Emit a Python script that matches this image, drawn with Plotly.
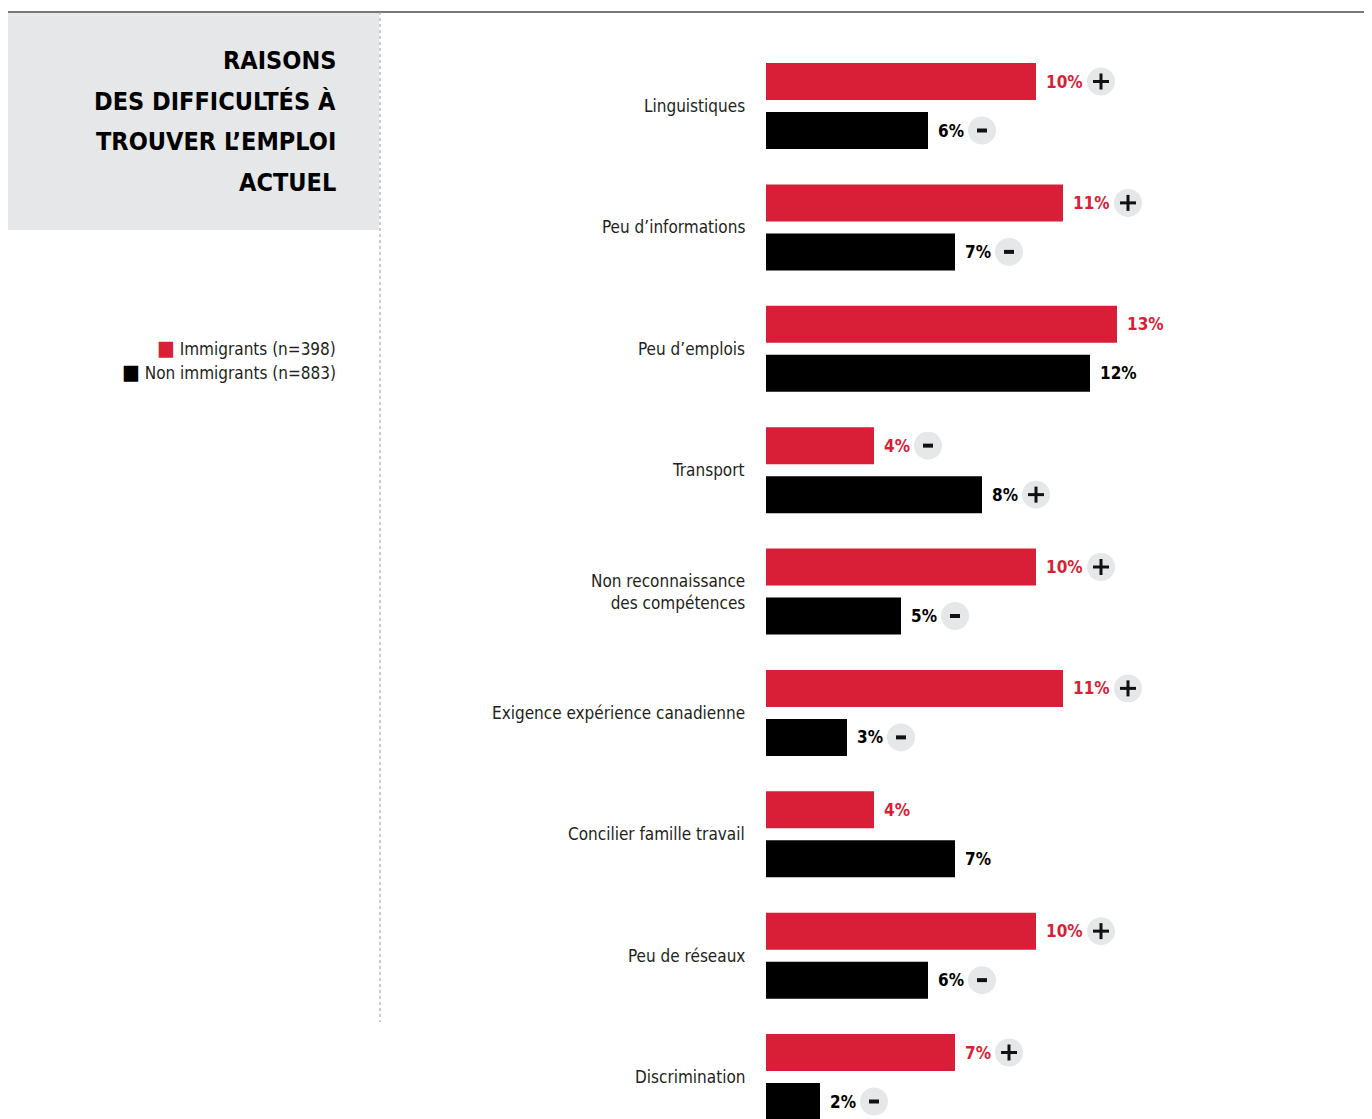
import plotly.graph_objects as go

# ---------------- data ----------------
categories = [
    "Linguistiques",
    "Peu d’informations",
    "Peu d’emplois",
    "Transport",
    "Non reconnaissance<br>des compétences",
    "Exigence expérience canadienne",
    "Concilier famille travail",
    "Peu de réseaux",
    "Discrimination",
]
immigrants = [10, 11, 13, 4, 10, 11, 4, 10, 7]
non_immigrants = [6, 7, 12, 8, 5, 3, 7, 6, 2]
# significance markers: "+" higher, "-" lower, "" none
immigrants_sig = ["+", "+", "", "-", "+", "+", "", "+", "+"]
non_immigrants_sig = ["-", "-", "", "+", "-", "-", "", "-", "-"]
title_lines = ["RAISONS", "DES DIFFICULTÉS À", "TROUVER L’EMPLOI", "ACTUEL"]
legend_labels = ["Immigrants (n=398)", "Non immigrants (n=883)"]

# ---------------- style ----------------
PAGE = 8  # browser body margin
W, H = 1372 - PAGE, 1119 - PAGE
RED = "#d81f37"
BLACK = "#000000"
TXT = "#231f20"
CIRCLE = "#e6e7e8"
FONT = "DejaVu Sans Condensed, Roboto Condensed, Liberation Sans Narrow, Roboto, sans-serif"

PX_PER_PCT = 27.0
X0_PX = 766 - PAGE
GROUP_PX = 121.375
FIRST_CENTER_PX = 106 - PAGE
OFF = 24.5 / GROUP_PX
BW = 37 / GROUP_PX

x_range = [0, (W - X0_PX) / PX_PER_PCT]
y_top = -FIRST_CENTER_PX / GROUP_PX
y_bot = (H - FIRST_CENTER_PX) / GROUP_PX

idx = list(range(len(categories)))
y_red = [i - OFF for i in idx]
y_blk = [i + OFF for i in idx]

fig = go.Figure()
fig.add_trace(go.Bar(x=immigrants, y=y_red, orientation="h", width=BW,
                     marker=dict(color=RED, line=dict(width=0)), name=legend_labels[0],
                     hoverinfo="x"))
fig.add_trace(go.Bar(x=non_immigrants, y=y_blk, orientation="h", width=BW,
                     marker=dict(color=BLACK, line=dict(width=0)), name=legend_labels[1],
                     hoverinfo="x"))

annotations = []
shapes = []

def px_x(p):
    return (p - PAGE) / W

def px_y(p):
    return 1 - (p - PAGE) / H

# category labels
for i, c in enumerate(categories):
    annotations.append(dict(x=0, y=i, xref="x", yref="y", text=c, showarrow=False,
                            xanchor="right", yanchor="middle", xshift=-19, align="right",
                            font=dict(family=FONT, size=17, color=TXT)))

def add_value(vals, ys, sigs, color):
    for v, y, s in zip(vals, ys, sigs):
        annotations.append(dict(x=v, y=y, xref="x", yref="y", text=f"<b>{v}%</b>",
                                showarrow=False, xanchor="left", yanchor="middle",
                                xshift=8, font=dict(family=FONT, size=17, color=color)))
        if s:
            off = 65 if v >= 10 else 54
            shapes.append(dict(type="circle", xref="x", yref="y", xsizemode="pixel",
                               ysizemode="pixel", xanchor=v, yanchor=y,
                               x0=off - 14, x1=off + 14, y0=-14, y1=14,
                               fillcolor=CIRCLE, line=dict(width=0), layer="above"))
            if s == "+":
                shapes.append(dict(type="line", xref="x", yref="y", xsizemode="pixel",
                                   ysizemode="pixel", xanchor=v, yanchor=y,
                                   x0=off - 8, x1=off + 8, y0=0, y1=0,
                                   line=dict(color="#111111", width=3), layer="above"))
                shapes.append(dict(type="line", xref="x", yref="y", xsizemode="pixel",
                                   ysizemode="pixel", xanchor=v, yanchor=y,
                                   x0=off, x1=off, y0=-8, y1=8,
                                   line=dict(color="#111111", width=3), layer="above"))
            else:
                shapes.append(dict(type="line", xref="x", yref="y", xsizemode="pixel",
                                   ysizemode="pixel", xanchor=v, yanchor=y,
                                   x0=off - 5, x1=off + 5, y0=0, y1=0,
                                   line=dict(color="#111111", width=4), layer="above"))

add_value(immigrants, y_red, immigrants_sig, RED)
add_value(non_immigrants, y_blk, non_immigrants_sig, BLACK)

# left panel decorations
shapes.append(dict(type="rect", xref="paper", yref="paper",
                   x0=px_x(8), x1=px_x(379), y0=px_y(230), y1=px_y(13),
                   fillcolor=CIRCLE, line=dict(width=0), layer="below"))
shapes.append(dict(type="line", xref="paper", yref="paper",
                   x0=px_x(8), x1=1, y0=px_y(12), y1=px_y(12),
                   line=dict(color="#4d4d4d", width=1.5)))
shapes.append(dict(type="line", xref="paper", yref="paper",
                   x0=px_x(380), x1=px_x(380), y0=px_y(12), y1=px_y(1022),
                   line=dict(color="#9a9a9a", width=1, dash="dot")))

# title
for k, line in enumerate(title_lines):
    annotations.append(dict(x=px_x(338), y=px_y(61 + 40.5 * k), xref="paper", yref="paper",
                            text=f"<b>{line}</b>", showarrow=False, xanchor="right",
                            yanchor="middle", font=dict(family=FONT, size=25, color="#000000")))

# legend
for k, (lab, col) in enumerate(zip(legend_labels, [RED, BLACK])):
    annotations.append(dict(x=px_x(338), y=px_y(348 + 24 * k), xref="paper", yref="paper",
                            text=f"<span style='color:{col};font-size:21px'>■</span> {lab}",
                            showarrow=False, xanchor="right", yanchor="middle",
                            font=dict(family=FONT, size=17, color=TXT)))

fig.update_layout(
    width=W, height=H, autosize=False,
    margin=dict(l=0, r=0, t=0, b=0, pad=0),
    paper_bgcolor="white", plot_bgcolor="white",
    showlegend=False,
    barmode="overlay",
    xaxis=dict(domain=[X0_PX / W, 1], range=x_range, visible=False, fixedrange=True),
    yaxis=dict(domain=[0, 1], range=[y_bot, y_top], visible=False, fixedrange=True),
    annotations=annotations, shapes=shapes,
)

fig.write_html("out.html")
